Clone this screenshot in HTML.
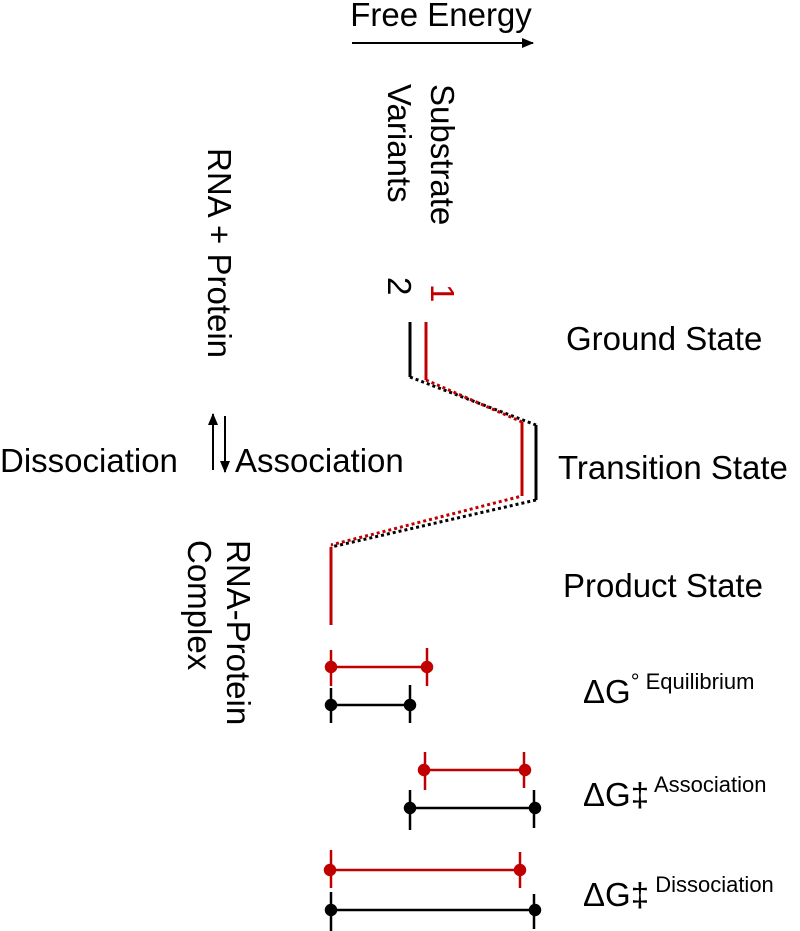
<!DOCTYPE html>
<html><head><style>html,body{margin:0;padding:0;background:#fff;}svg{display:block}</style></head>
<body>
<svg width="800" height="931" viewBox="0 0 800 931" xmlns="http://www.w3.org/2000/svg" font-family="Liberation Sans, Arial, sans-serif" font-size="33">
<defs>
<marker id="ah" markerWidth="12" markerHeight="10" refX="11" refY="5" orient="auto" markerUnits="userSpaceOnUse"><path d="M0,0 L12,5 L0,10 z" fill="#000"/></marker>
</defs>
<text x="441" y="26" text-anchor="middle">Free Energy</text>
<line x1="352" y1="43" x2="533" y2="43" stroke="#000" stroke-width="2" marker-end="url(#ah)"/>

<text transform="translate(431,84) rotate(90)">Substrate</text>
<text transform="translate(388,84) rotate(90)">Variants</text>
<text transform="translate(431,284) rotate(90)" fill="#c00000">1</text>
<text transform="translate(388,277) rotate(90)">2</text>

<text transform="translate(208,148) rotate(90)">RNA + Protein</text>
<text transform="translate(227,540) rotate(90)">RNA-Protein</text>
<text transform="translate(188,540) rotate(90)">Complex</text>

<line x1="213" y1="470" x2="213" y2="414" stroke="#000" stroke-width="2" marker-end="url(#ah)"/>
<line x1="225" y1="416" x2="225" y2="472" stroke="#000" stroke-width="2" marker-end="url(#ah)"/>
<text x="0" y="472">Dissociation</text>
<text x="235" y="472">Association</text>

<text x="566" y="350">Ground State</text>
<text x="558" y="479">Transition State</text>
<text x="563" y="597">Product State</text>
<text x="583" y="703">ΔG<tspan font-size="22" dy="-14">° Equilibrium</tspan></text>
<text x="583" y="806">ΔG‡<tspan font-size="22" dy="-14"> Association</tspan></text>
<text x="583" y="906">ΔG‡<tspan font-size="22" dy="-14"> Dissociation</tspan></text>

<g stroke-width="3" fill="none">
<line x1="410" y1="322" x2="410" y2="377" stroke="#000"/>
<line x1="426" y1="322" x2="426" y2="380" stroke="#c00000"/>
<line x1="410" y1="377" x2="536" y2="425" stroke="#000" stroke-dasharray="3,3"/>
<line x1="426" y1="380" x2="522" y2="422" stroke="#c00000" stroke-dasharray="3,3"/>
<line x1="536" y1="425" x2="536" y2="500" stroke="#000"/>
<line x1="522" y1="422" x2="522" y2="496" stroke="#c00000"/>
<line x1="536" y1="500" x2="331" y2="547" stroke="#000" stroke-dasharray="3,3"/>
<line x1="522" y1="496" x2="331" y2="545" stroke="#c00000" stroke-dasharray="3,3" stroke-dashoffset="3"/>
<line x1="331" y1="547" x2="331" y2="625" stroke="#c00000"/>
</g>

<g stroke-width="2.5">
<g stroke="#c00000" fill="#c00000">
<line x1="331" y1="667" x2="427" y2="667"/>
<line x1="331" y1="650" x2="331" y2="686"/><line x1="427" y1="648" x2="427" y2="686"/>
<circle cx="331" cy="667" r="5"/><circle cx="427" cy="667" r="5"/>
<line x1="423" y1="770" x2="524" y2="770"/>
<line x1="425" y1="752" x2="425" y2="790"/><line x1="524" y1="752" x2="524" y2="788"/>
<circle cx="424" cy="770" r="5"/><circle cx="525" cy="770" r="5"/>
<line x1="331" y1="870" x2="519" y2="870"/>
<line x1="331" y1="850" x2="331" y2="888"/><line x1="520" y1="852" x2="520" y2="888"/>
<circle cx="330" cy="870" r="5"/><circle cx="520" cy="870" r="5"/>
</g>
<g stroke="#000" fill="#000">
<line x1="331" y1="705" x2="410" y2="705"/>
<line x1="331" y1="688" x2="331" y2="723"/><line x1="410" y1="685" x2="410" y2="723"/>
<circle cx="331" cy="705" r="5"/><circle cx="410" cy="705" r="5"/>
<line x1="410" y1="808" x2="536" y2="808"/>
<line x1="410" y1="790" x2="410" y2="830"/><line x1="534" y1="790" x2="534" y2="828"/>
<circle cx="410" cy="808" r="5"/><circle cx="535" cy="808" r="5"/>
<line x1="331" y1="910" x2="536" y2="910"/>
<line x1="331" y1="892" x2="331" y2="931"/><line x1="534" y1="894" x2="534" y2="929"/>
<circle cx="331" cy="910" r="5"/><circle cx="535" cy="910" r="5"/>
</g>
</g>
</svg>
</body></html>
